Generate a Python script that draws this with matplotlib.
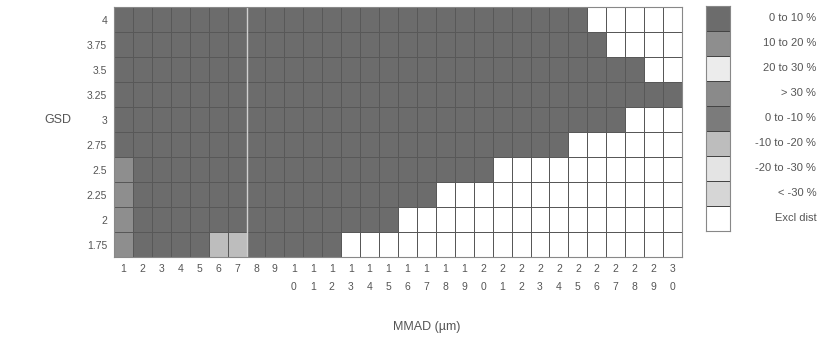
import matplotlib
matplotlib.use('Agg')
import matplotlib.pyplot as plt
import numpy as np
from matplotlib.colors import ListedColormap, BoundaryNorm

plt.rcParams.update({
    'font.family': ['Liberation Sans', 'DejaVu Sans'],
    'font.size': 7,
})

# data
mmad = list(range(1, 31))
gsd = [1.75, 2, 2.25, 2.5, 2.75, 3, 3.25, 3.5, 3.75, 4]
gsd_labels = ['1.75', '2', '2.25', '2.5', '2.75', '3', '3.25', '3.5', '3.75', '4']

cat_labels = ['0 to 10 %', '10 to 20 %', '20 to 30 %', '> 30 %', '0 to -10 %',
              '-10 to -20 %', '-20 to -30 %', '< -30 %', 'Excl dist']
cat_colors = ['#6c6c6c', '#8e8e8e', '#ececec', '#8a8a8a', '#7b7b7b',
              '#bdbdbd', '#e4e4e4', '#d6d6d6', '#ffffff']

# first excluded MMAD per GSD row (None = nothing excluded)
excl_from = [13, 16, 18, 21, 25, 28, None, 29, 27, 26]

# cells that differ from the default "0 to 10 %" class: (mmad, gsd, class index)
special_mmad = [1, 1, 1, 1, 6, 7]
special_gsd = [1.75, 2, 2.25, 2.5, 1.75, 1.75]
special_cat = [1, 1, 1, 1, 5, 5]

Z = np.zeros((len(gsd), len(mmad)), dtype=int)
for i, start in enumerate(excl_from):
    if start is not None:
        Z[i, start - 1:] = 8
for m, g, c in zip(special_mmad, special_gsd, special_cat):
    Z[gsd.index(g), mmad.index(m)] = c

cmap = ListedColormap(cat_colors)
norm = BoundaryNorm(np.arange(-0.5, 9.5), cmap.N)

fig = plt.figure(figsize=(8.17, 3.41), dpi=100)
ax = fig.add_axes([0.1395, 0.2463, 0.6953, 0.7331])

xe = np.arange(0.5, len(mmad) + 1)
ye = np.arange(-0.5, len(gsd))
ax.pcolormesh(xe, ye, Z, cmap=cmap, norm=norm, edgecolors='#585858', linewidth=0.7)
ax.axvline(7.5, color='#d0d0d0', linewidth=1.0)

ax.set_xlim(0.5, len(mmad) + 0.5)
ax.set_ylim(-0.5, len(gsd) - 0.5)
ax.set_xticks(mmad)
ax.set_xticklabels([str(m) if m < 10 else '\n'.join(str(m)) for m in mmad],
                   color='#555555', fontsize=7.5, linespacing=2.0)
ax.set_yticks(range(len(gsd)))
ax.set_yticklabels(gsd_labels, color='#555555', fontsize=7.5)
ax.tick_params(length=0, pad=5)
for s in ax.spines.values():
    s.set_color('#888888')
    s.set_linewidth(0.8)

ax.set_xlabel('MMAD (µm)', fontsize=9, color='#555555')
ax.xaxis.set_label_coords(0.55, -0.255)
ax.set_ylabel('GSD', fontsize=9, color='#555555', rotation=0, ha='right', va='center')
ax.yaxis.set_label_coords(-0.075, 0.55)

# legend as a stacked box of classes
lax = fig.add_axes([0.8641, 0.3226, 0.0294, 0.66])
n = len(cat_labels)
lax.pcolormesh([0, 1], np.arange(n + 1), np.arange(n)[::-1].reshape(-1, 1),
               cmap=cmap, norm=norm, edgecolors='#444444', linewidth=0.6)
lax.set_xlim(0, 1)
lax.set_ylim(0, n)
lax.set_xticks([])
lax.set_yticks([])
for s in lax.spines.values():
    s.set_color('#888888')
for k, lab in enumerate(cat_labels):
    fig.text(0.999, 0.3226 + 0.66 * (n - k - 0.5) / n, lab, ha='right', va='center',
             fontsize=8, color='#555555')

fig.savefig('out.png', dpi=100)
